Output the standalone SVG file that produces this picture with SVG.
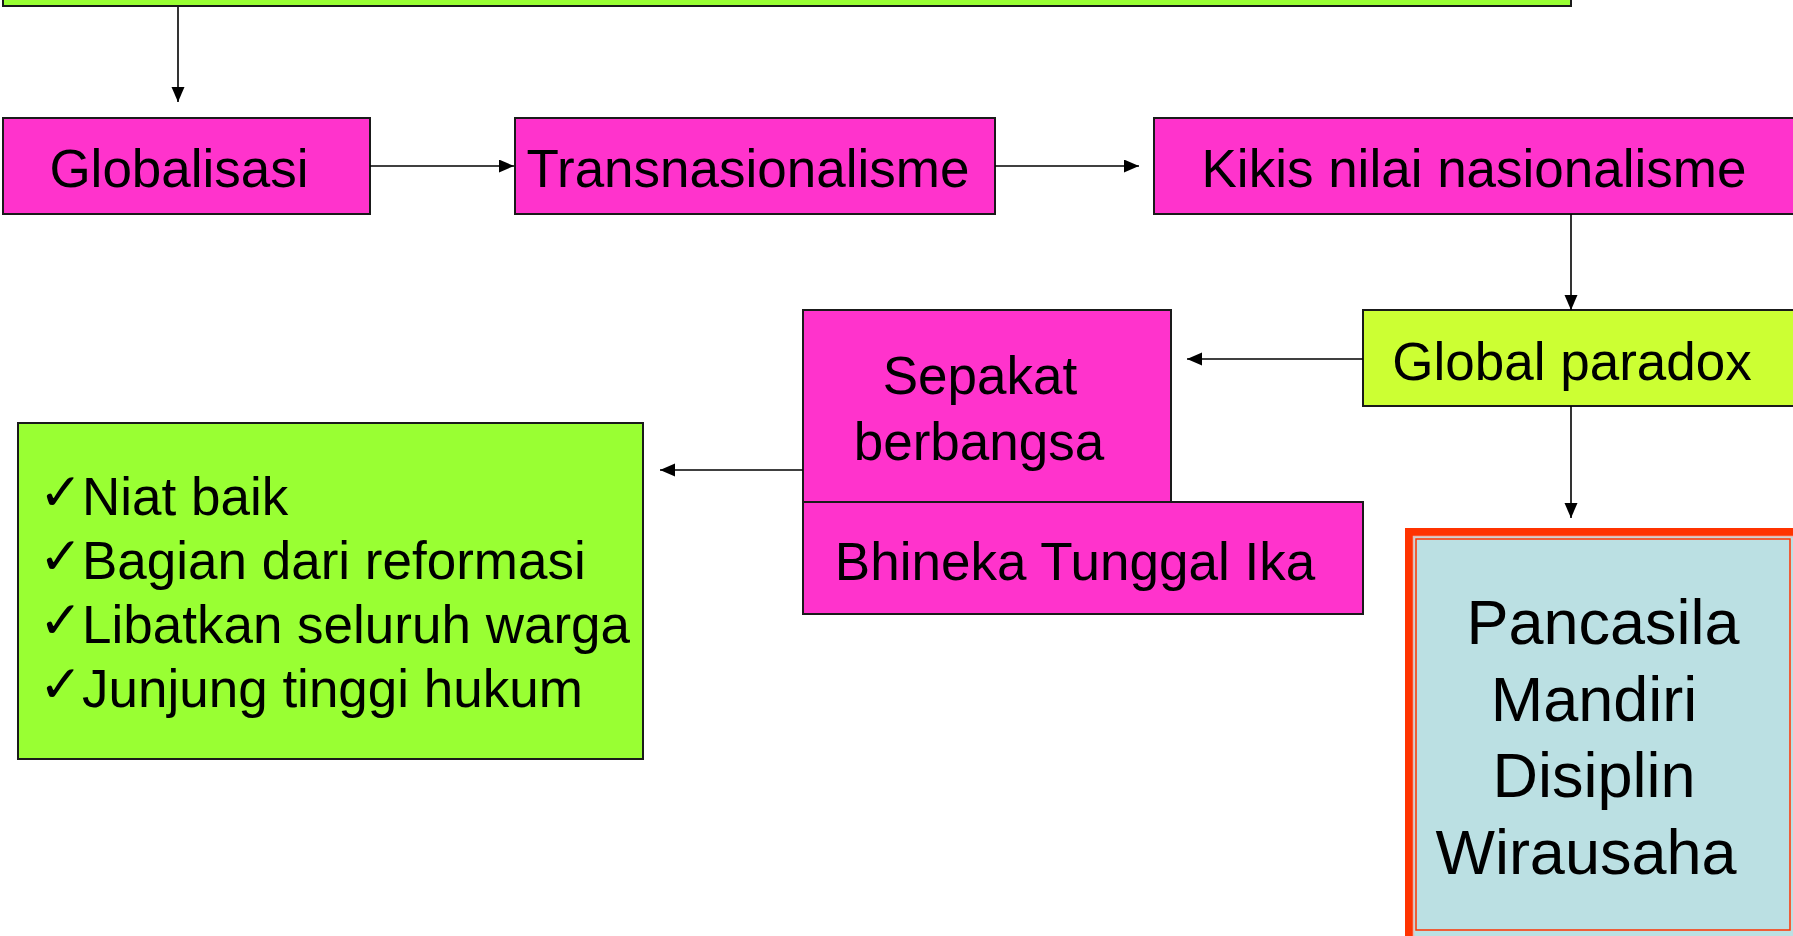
<svg xmlns="http://www.w3.org/2000/svg" width="1793" height="936" viewBox="0 0 1793 936">
<defs>
<style>
.box{stroke:#1a1a1a;stroke-width:2}
.pink{fill:#FF33CC}
.green{fill:#99FF33}
.lime{fill:#CCFF33}
.t{font-family:"Liberation Sans",Arial,sans-serif;font-size:53px;fill:#000}
.big{font-family:"Liberation Sans",Arial,sans-serif;font-size:63px;fill:#000;text-anchor:middle}
.chk{font-family:"DejaVu Sans",sans-serif;font-size:52px;fill:#000}
.c{fill:none;stroke:#000;stroke-width:1.6}
</style>
<marker id="ah" markerUnits="userSpaceOnUse" markerWidth="16" markerHeight="14" refX="15" refY="6.5" orient="auto">
<path d="M0,0 L15,6.5 L0,13 z" fill="#000"/>
</marker>
</defs>
<rect width="1793" height="936" fill="#fff"/>

<g id="top-box">
<rect class="box green" x="3" y="-50" width="1568" height="56"/>
</g>

<g id="globalisasi">
<rect class="box pink" x="3" y="118" width="367" height="96"/>
<text class="t" x="179" y="187" text-anchor="middle">Globalisasi</text>
</g>

<g id="transnasionalisme">
<rect class="box pink" x="515" y="118" width="480" height="96"/>
<text class="t" x="748" y="187" text-anchor="middle">Transnasionalisme</text>
</g>

<g id="kikis">
<rect class="box pink" x="1154" y="118" width="660" height="96"/>
<text class="t" x="1474" y="187" text-anchor="middle">Kikis nilai nasionalisme</text>
</g>

<g id="global-paradox">
<rect class="box lime" x="1363" y="310" width="460" height="96"/>
<text class="t" x="1572" y="380" text-anchor="middle">Global paradox</text>
</g>

<g id="sepakat">
<rect class="box pink" x="803" y="310" width="368" height="192"/>
<text class="t" x="980" y="394" text-anchor="middle">Sepakat</text>
<text class="t" x="979" y="460" text-anchor="middle">berbangsa</text>
</g>

<g id="bhineka">
<rect class="box pink" x="803" y="502" width="560" height="112"/>
<text class="t" x="1075" y="580" text-anchor="middle">Bhineka Tunggal Ika</text>
</g>

<g id="list">
<rect class="box green" x="18" y="423" width="625" height="336"/>
<text class="chk" x="39" y="510">✓</text>
<text class="t" x="82" y="515">Niat baik</text>
<text class="chk" x="39" y="574">✓</text>
<text class="t" x="82" y="579">Bagian dari reformasi</text>
<text class="chk" x="39" y="638">✓</text>
<text class="t" x="82" y="643">Libatkan seluruh warga</text>
<text class="chk" x="39" y="702">✓</text>
<text class="t" x="82" y="707">Junjung tinggi hukum</text>
</g>

<g id="pancasila">
<rect x="1409" y="532" width="400" height="420" fill="#BBE0E3" stroke="#FF3300" stroke-width="8"/>
<rect x="1413.5" y="536.5" width="400" height="420" fill="none" stroke="#E8B8B0" stroke-width="1.5"/>
<rect x="1416" y="539" width="374" height="391" fill="none" stroke="#FF3300" stroke-width="1.5"/>
<text class="big" x="1603" y="644">Pancasila</text>
<text class="big" x="1594" y="721">Mandiri</text>
<text class="big" x="1594" y="797">Disiplin</text>
<text class="big" x="1586" y="874">Wirausaha</text>
</g>

<g id="connectors">
<path class="c" d="M178,7 L178,102" marker-end="url(#ah)"/>
<path class="c" d="M370,166 L514,166" marker-end="url(#ah)"/>
<path class="c" d="M995,166 L1139,166" marker-end="url(#ah)"/>
<path class="c" d="M1571,214 L1571,310" marker-end="url(#ah)"/>
<path class="c" d="M1363,359 L1187,359" marker-end="url(#ah)"/>
<path class="c" d="M1571,406 L1571,518" marker-end="url(#ah)"/>
<path class="c" d="M803,470 L660,470" marker-end="url(#ah)"/>
</g>
</svg>
